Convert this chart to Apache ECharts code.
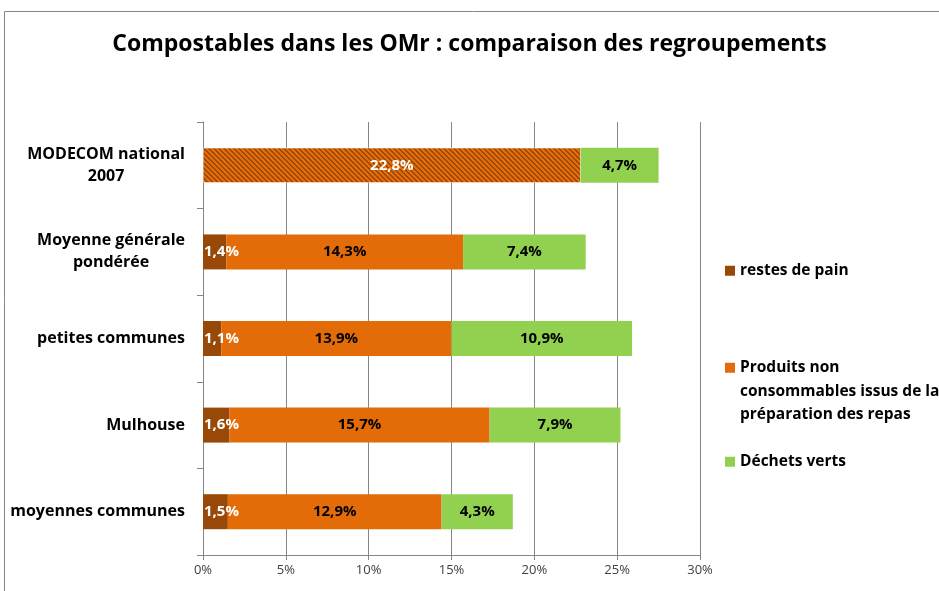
<!DOCTYPE html>
<html>
<head>
<meta charset="utf-8">
<script src="https://cdn.jsdelivr.net/npm/echarts@6/dist/echarts.min.js"></script>
<style>
html,body{margin:0;padding:0;background:#fff;}
#main{width:939px;height:591px;}
</style>
</head>
<body>
<div id="main"></div>
<script>
// ---- data ----
const titleText = 'Compostables dans les OMr : comparaison des regroupements';
const categories = ['moyennes communes', 'Mulhouse', 'petites communes', 'Moyenne générale\npondérée', 'MODECOM national\n2007'];
const seriesNames = ['restes de pain', 'Produits non consommables issus de la préparation des repas', 'Déchets verts'];
const legendTexts = ['restes de pain', '\n\nProduits non\nconsommables issus de la\npréparation des repas', 'Déchets verts'];
const painValues = [1.5, 1.6, 1.1, 1.4, '-'];
const produitsValues = [12.9, 15.7, 13.9, 14.3, 22.8];
const vertsValues = [4.3, 7.9, 10.9, 7.4, 4.7];
const hatchedCategory = 'MODECOM national\n2007'; // combined value drawn hatched
const xMin = 0, xMax = 30, xInterval = 5;

// ---- styles ----
const FONT = '"Open Sans"';
const CAT_SIZE = 16;
const colBrown = '#984807', colOrange = '#E36C09', colGreen = '#92D050';

const P = 5;
const pc = document.createElement('canvas');
pc.width = P; pc.height = P;
const g = pc.getContext('2d');
g.fillStyle = colOrange; g.fillRect(0, 0, P, P);
g.fillStyle = colBrown;
for (let i = 0; i < P; i++) { g.fillRect(i, i, 1, 1); g.fillRect((i + 1) % P, i, 1, 1); }
const hatch = { image: pc, repeat: 'repeat' };

// centred lines inside right-aligned multi-line category labels
const mctx = document.createElement('canvas').getContext('2d');
mctx.font = 'bold ' + CAT_SIZE + 'px ' + FONT;
const catTok = { align: 'right', fontFamily: FONT, fontWeight: 'bold', fontSize: CAT_SIZE, color: '#000', lineHeight: 22 };
const catRich = { t: catTok };
const catText = categories.map((c, i) => {
  const lines = c.split('\n');
  const ws = lines.map(l => mctx.measureText(l).width);
  const W = Math.max(...ws);
  return lines.map((l, j) => {
    const pad = (W - ws[j]) / 2;
    if (pad < 0.5) return '{t|' + l + '}';
    const key = 's' + i + '_' + j;
    catRich[key] = { align: 'right', width: pad, lineHeight: 22 };
    return '{t|' + l + '}{' + key + '|}';
  }).join('\n');
});

const fmt = p => Number(p.value).toFixed(1).replace('.', ',') + '%';
const labelBase = { show: true, position: 'inside', fontFamily: FONT, fontWeight: 'bold', fontSize: 15, formatter: fmt };

const chart = echarts.init(document.getElementById('main'));
const option = {
  backgroundColor: '#fff',
  animation: false,
  title: {
    text: titleText, left: 'center', top: 28,
    textStyle: { fontFamily: FONT, fontWeight: 'bold', fontSize: 23, color: '#000' }
  },
  graphic: [{
    type: 'rect', silent: true,
    shape: { x: 4.5, y: 11.5, width: 1000, height: 1000 },
    style: { fill: 'none', stroke: '#868686', lineWidth: 1 }
  }],
  grid: { left: 203, right: 239, top: 122, bottom: 36 },
  xAxis: {
    type: 'value', min: xMin, max: xMax, interval: xInterval,
    axisLine: { show: true, lineStyle: { color: '#868686' } },
    axisTick: { show: true, length: 5, lineStyle: { color: '#868686' } },
    splitLine: { show: true, lineStyle: { color: '#868686' } },
    axisLabel: { formatter: v => v + '%', fontFamily: FONT, fontSize: 13, color: '#404040', margin: 9 }
  },
  yAxis: {
    type: 'category', data: categories,
    axisLine: { show: true, lineStyle: { color: '#868686' } },
    axisTick: { show: true, length: 6, lineStyle: { color: '#868686' } },
    axisLabel: {
      margin: 18, fontFamily: FONT, fontWeight: 'bold', fontSize: CAT_SIZE, color: '#000', lineHeight: 22,
      formatter: (v, i) => catText[i],
      rich: catRich
    }
  },
  legend: [0, 1, 2].map(i => ({
    data: [seriesNames[i]],
    orient: 'vertical', left: 725, top: [259, 309, 450][i], padding: 0,
    itemWidth: 10, itemHeight: 10, icon: 'rect', selectedMode: false,
    formatter: () => legendTexts[i],
    textStyle: { fontFamily: FONT, fontWeight: 'bold', fontSize: 15.5, color: '#000', lineHeight: 23.5 }
  })),
  series: [
    {
      name: seriesNames[0], type: 'bar', stack: 'a', barWidth: 35,
      itemStyle: { color: colBrown },
      label: Object.assign({}, labelBase, { color: '#fff', position: 'insideLeft', distance: 1 }),
      data: painValues
    },
    {
      name: seriesNames[1], type: 'bar', stack: 'a', barWidth: 35,
      itemStyle: { color: colOrange },
      label: Object.assign({}, labelBase, { color: '#000' }),
      data: produitsValues.map((v, i) => categories[i] === hatchedCategory
        ? { value: v, itemStyle: { color: hatch, borderColor: '#fff', borderWidth: 0.5 }, label: { color: '#fff' } }
        : v)
    },
    {
      name: seriesNames[2], type: 'bar', stack: 'a', barWidth: 35,
      itemStyle: { color: colGreen },
      label: Object.assign({}, labelBase, { color: '#000' }),
      data: vertsValues
    }
  ]
};
chart.setOption(option);
</script>
</body>
</html>
